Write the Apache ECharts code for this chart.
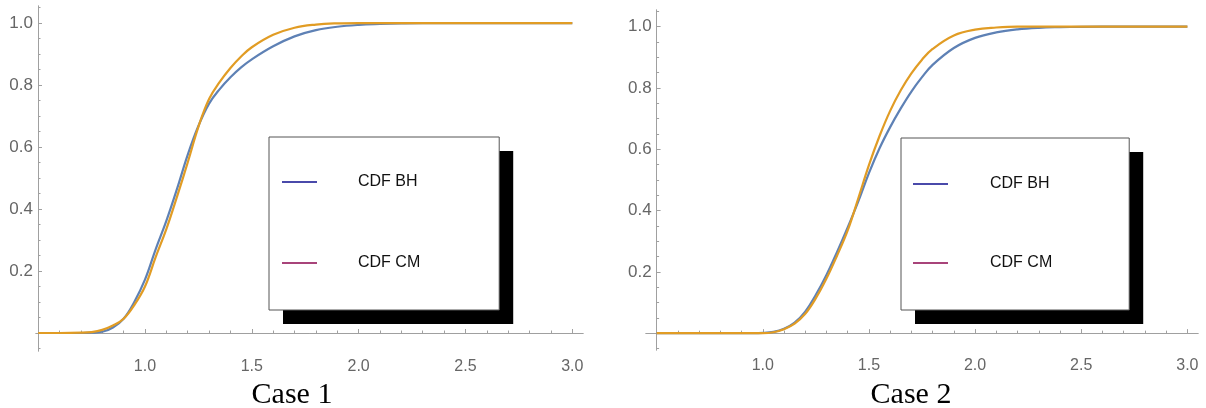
<!DOCTYPE html>
<html>
<head>
<meta charset="utf-8">
<script src="https://cdn.jsdelivr.net/npm/echarts@6/dist/echarts.min.js"></script>
<style>
html,body{margin:0;padding:0;background:#fff;}
#chart{width:1206px;height:408px;}
</style>
</head>
<body>
<div id="chart"></div>
<script>
// ---- data ----
const titles = ['Case 1', 'Case 2'];
const seriesNames = ['CDF BH', 'CDF CM'];

const case1X = [0.5, 0.6, 0.7, 0.75, 0.8, 0.85, 0.9, 0.95, 1.0, 1.05, 1.1, 1.15, 1.2, 1.25, 1.3, 1.35, 1.4, 1.45, 1.5, 1.6, 1.7, 1.8, 1.9, 2.0, 2.1, 2.2, 2.3, 2.5, 2.7, 3.0];
const case1BH = [0, 0, 0, 0.001, 0.004, 0.018, 0.046, 0.1, 0.172, 0.27, 0.362, 0.465, 0.575, 0.668, 0.74, 0.787, 0.825, 0.857, 0.883, 0.925, 0.957, 0.977, 0.988, 0.994, 0.997, 0.999, 1, 1, 1, 1];
const case1CM = [0, 0, 0.001, 0.003, 0.01, 0.024, 0.046, 0.09, 0.15, 0.245, 0.335, 0.44, 0.55, 0.665, 0.755, 0.81, 0.855, 0.892, 0.922, 0.962, 0.985, 0.995, 0.999, 1, 1, 1, 1, 1, 1, 1];

const case2X = [0.5, 0.8, 0.9, 1.0, 1.05, 1.1, 1.15, 1.2, 1.25, 1.3, 1.35, 1.4, 1.45, 1.5, 1.55, 1.6, 1.65, 1.7, 1.75, 1.8, 1.9, 2.0, 2.1, 2.2, 2.3, 2.4, 2.5, 2.7, 3.0];
const case2BH = [0, 0, 0, 0.001, 0.004, 0.014, 0.034, 0.07, 0.125, 0.19, 0.265, 0.345, 0.43, 0.522, 0.603, 0.672, 0.733, 0.788, 0.835, 0.875, 0.93, 0.963, 0.981, 0.991, 0.996, 0.998, 0.999, 1, 1];
const case2CM = [0, 0, 0, 0, 0.003, 0.013, 0.031, 0.063, 0.114, 0.178, 0.253, 0.335, 0.44, 0.548, 0.643, 0.725, 0.792, 0.847, 0.892, 0.927, 0.971, 0.99, 0.997, 1, 1, 1, 1, 1, 1];

const xMajorTicks = [1.0, 1.5, 2.0, 2.5, 3.0];
const xMinorTicks = [0.6, 0.7, 0.8, 0.9, 1.1, 1.2, 1.3, 1.4, 1.6, 1.7, 1.8, 1.9, 2.1, 2.2, 2.3, 2.4, 2.6, 2.7, 2.8, 2.9];
const yMajorTicks = [0.2, 0.4, 0.6, 0.8, 1.0];
const yMinorTicks = [-0.05, 0.05, 0.1, 0.15, 0.25, 0.3, 0.35, 0.45, 0.5, 0.55, 0.65, 0.7, 0.75, 0.85, 0.9, 0.95, 1.05];

// ---- styling ----
const BLUE = '#5E81B5', ORANGE = '#E19C24';
const LEG_BLUE = '#4a4aaa', LEG_MAG = '#a8447a';
const AXIS_COL = '#a0a0a0', LABEL_COL = '#666666';

const pairs = (xs, ys) => xs.map((x, i) => [x, ys[i]]);

function xAxisPair(gridIndex, min, max, zeroIdx) {
  const base = {
    type: 'value', gridIndex, min, max, position: 'bottom',
    axisLine: { show: true, onZero: true, onZeroAxisIndex: zeroIdx, lineStyle: { color: AXIS_COL, width: 1 } },
    splitLine: { show: false }
  };
  return [
    Object.assign({}, base, {
      axisTick: { show: true, inside: true, length: 4, customValues: xMajorTicks, lineStyle: { color: AXIS_COL } },
      axisLabel: { show: true, customValues: xMajorTicks, margin: 8, color: LABEL_COL, fontSize: 16, fontFamily: 'Liberation Sans', formatter: v => v.toFixed(1) }
    }),
    Object.assign({}, base, {
      axisTick: { show: true, inside: true, length: 2.5, customValues: xMinorTicks, lineStyle: { color: AXIS_COL } },
      axisLabel: { show: false }
    })
  ];
}

function yAxisPair(gridIndex, min, max, offset) {
  const base = {
    type: 'value', gridIndex, min, max, position: 'left', offset,
    axisLine: { show: true, onZero: false, lineStyle: { color: AXIS_COL, width: 1 } },
    splitLine: { show: false }
  };
  return [
    Object.assign({}, base, {
      axisTick: { show: true, inside: true, length: 4, customValues: yMajorTicks, lineStyle: { color: AXIS_COL } },
      axisLabel: { show: true, customValues: yMajorTicks, margin: 5, color: LABEL_COL, fontSize: 17, fontFamily: 'Liberation Sans', formatter: v => v.toFixed(1) }
    }),
    Object.assign({}, base, {
      axisTick: { show: true, inside: true, length: 2.5, customValues: yMinorTicks, lineStyle: { color: AXIS_COL } },
      axisLabel: { show: false }
    })
  ];
}

// Two stacked legends per chart: one paints the white box with its hard black shadow,
// the other paints the grey border and the entries on top.
function legendPair(left, top, padding, itemGap, textPad) {
  const common = {
    orient: 'vertical', left, top, padding, itemGap,
    icon: 'rect', itemWidth: 35, itemHeight: 2, selectedMode: false
  };
  const items = (c1, c2) => [
    { name: seriesNames[0], itemStyle: { color: c1 } },
    { name: seriesNames[1], itemStyle: { color: c2 } }
  ];
  return [
    Object.assign({}, common, {
      backgroundColor: '#ffffff', borderWidth: 0,
      shadowColor: '#000000', shadowBlur: 0, shadowOffsetX: 14, shadowOffsetY: 14,
      textStyle: { fontSize: 16, lineHeight: 16, fontFamily: 'Liberation Sans', color: 'rgba(0,0,0,0)', padding: [0, 0, 0, textPad] },
      data: items('rgba(0,0,0,0)', 'rgba(0,0,0,0)')
    }),
    Object.assign({}, common, {
      backgroundColor: 'rgba(0,0,0,0)', borderColor: '#555555', borderWidth: 1,
      textStyle: { fontSize: 16, lineHeight: 16, fontFamily: 'Liberation Sans', color: '#111', padding: [0, 0, 0, textPad] },
      data: items(LEG_BLUE, LEG_MAG)
    })
  ];
}

function lineSeries(name, data, color, xi, yi, z) {
  return {
    type: 'line', name, data, xAxisIndex: xi, yAxisIndex: yi,
    showSymbol: false, symbol: 'none', smooth: 0.4,
    lineStyle: { color, width: 2.2 }, itemStyle: { color }, z
  };
}

const titleStyle = { fontFamily: 'Liberation Serif', fontSize: 30, fontWeight: 'normal', color: '#000' };

const option = {
  animation: false,
  backgroundColor: '#ffffff',
  title: [
    { text: titles[0], left: 287, top: 375, textAlign: 'center', textStyle: titleStyle },
    { text: titles[1], left: 906, top: 375, textAlign: 'center', textStyle: titleStyle }
  ],
  grid: [
    { left: 36, right: 623, top: 6, bottom: 57 },
    { left: 646, right: 8, top: 10, bottom: 58 }
  ],
  xAxis: [].concat(xAxisPair(0, 0.49, 3.05, 0), xAxisPair(1, 0.45, 3.05, 2)),
  yAxis: [].concat(yAxisPair(0, -0.058, 1.055, -2), yAxisPair(1, -0.055, 1.054, -10.6)),
  legend: [].concat(
    legendPair(269, 137, [37, 79, 39, 13], 65, 36),
    legendPair(901, 138, [38, 77, 39, 12], 63, 37)
  ),
  series: [
    lineSeries(seriesNames[0], pairs(case1X, case1BH), BLUE, 0, 0, 2),
    lineSeries(seriesNames[1], pairs(case1X, case1CM), ORANGE, 0, 0, 3),
    lineSeries(seriesNames[0], pairs(case2X, case2BH), BLUE, 2, 2, 2),
    lineSeries(seriesNames[1], pairs(case2X, case2CM), ORANGE, 2, 2, 3)
  ]
};

const chart = echarts.init(document.getElementById('chart'), null, { renderer: 'canvas' });
chart.setOption(option);
</script>
</body>
</html>
